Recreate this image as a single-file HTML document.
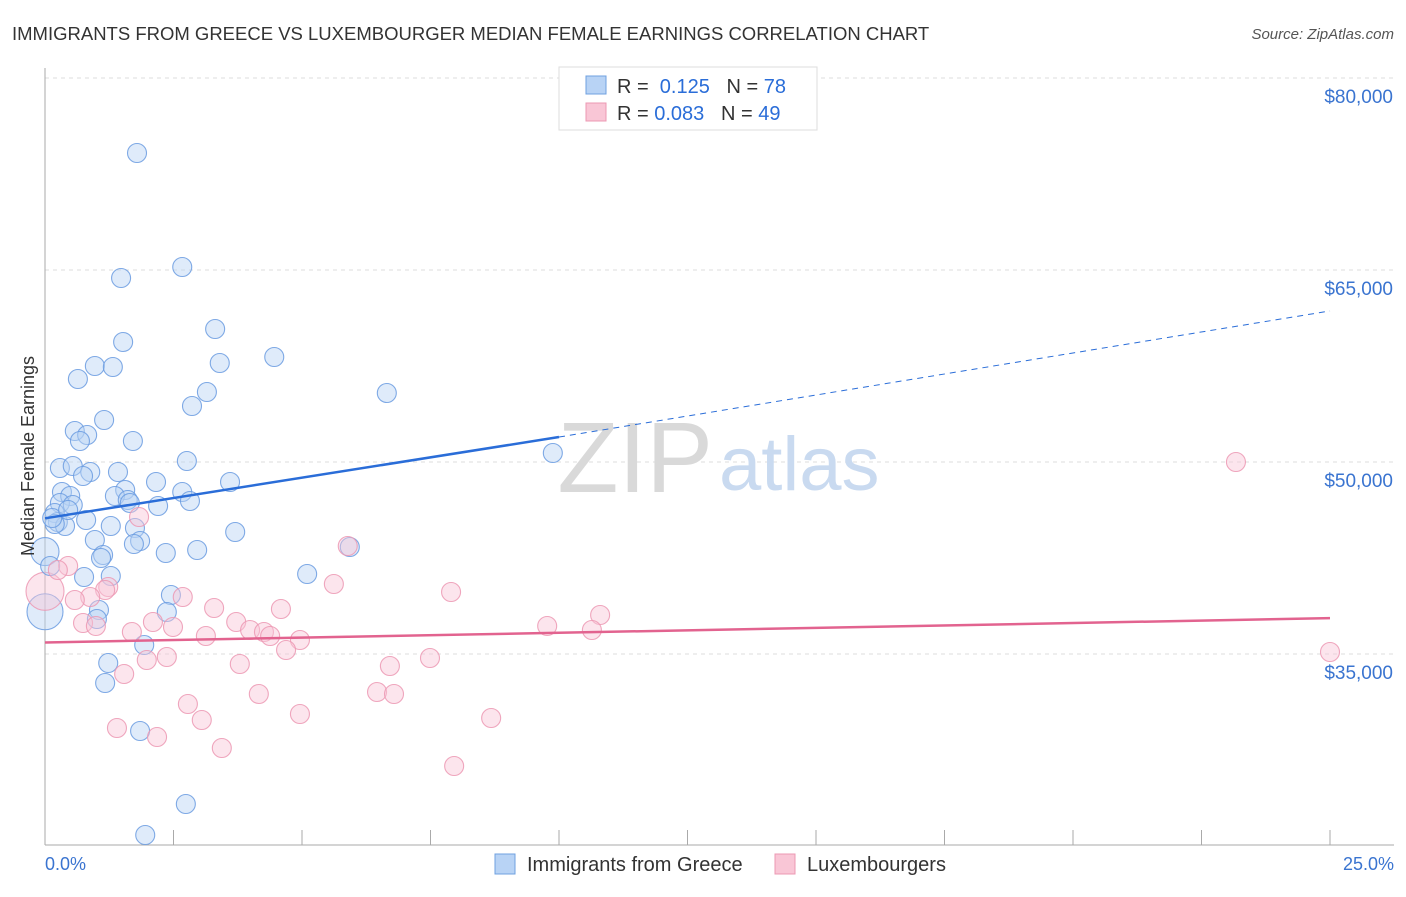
<!DOCTYPE html>
<html><head><meta charset="utf-8"><style>
body{margin:0;background:#fff;font-family:"Liberation Sans",sans-serif}
svg text{font-family:"Liberation Sans",sans-serif}
</style></head><body>
<svg id="c" width="1406" height="892">
<text x="12" y="40" font-size="18.5" fill="#333">IMMIGRANTS FROM GREECE VS LUXEMBOURGER MEDIAN FEMALE EARNINGS CORRELATION CHART</text>
<text x="1394" y="39" font-size="15" fill="#555" font-style="italic" text-anchor="end">Source: ZipAtlas.com</text>
<g id="grid"></g>
<text x="713" y="492" font-size="100" fill="#d9d9d9" text-anchor="end" font-family="Liberation Serif">ZIP</text>
<text x="719" y="490" font-size="76" fill="#c9daf0">atlas</text>
<g id="pts"></g>
<g id="lines"></g>
<text transform="translate(34,456) rotate(-90)" font-size="18" fill="#333" text-anchor="middle">Median Female Earnings</text>
<text x="45" y="870" font-size="18" fill="#3a74d0">0.0%</text>
<text x="1394" y="870" font-size="18" fill="#3a74d0" text-anchor="end">25.0%</text>
<g>
<rect x="559" y="67" width="258" height="63" fill="#fff" stroke="#ddd"/>
<rect x="586" y="76" width="20" height="18" fill="#b8d3f5" stroke="#6fa0e0"/>
<rect x="586" y="103" width="20" height="18" fill="#f9c6d6" stroke="#ec98b3"/>
<text x="617" y="93" font-size="20" fill="#333">R = <tspan fill="#2a6dd8">&#160;0.125</tspan>&#160;&#160;&#160;N = <tspan fill="#2a6dd8">78</tspan></text>
<text x="617" y="120" font-size="20" fill="#333">R = <tspan fill="#2a6dd8">0.083</tspan>&#160;&#160;&#160;N = <tspan fill="#2a6dd8">49</tspan></text>
</g>
<g>
<rect x="495" y="854" width="20" height="20" fill="#b8d3f5" stroke="#6fa0e0"/>
<text x="527" y="871" font-size="20" fill="#333">Immigrants from Greece</text>
<rect x="775" y="854" width="20" height="20" fill="#f9c6d6" stroke="#ec98b3"/>
<text x="807" y="871" font-size="20" fill="#333">Luxembourgers</text>
</g>
</svg>
<script>
const yTicks=[35000,50000,65000,80000];
const yTickLabels=["$35,000","$50,000","$65,000","$80,000"];
const xTicks=[0,2.5,5,7.5,10,12.5,15,17.5,20,22.5,25];
const bluePx=[[137,153],[182,267],[121,278],[215,329],[123,342],[274,357],[95,366],[113,367],[220,363],[78,379],[207,392],[387,393],[192,406],[104,420],[75,431],[87,435],[80,441],[133,441],[553,453],[187,461],[60,468],[73,466],[90,472],[118,472],[83,476],[156,482],[230,482],[62,492],[125,490],[182,492],[70,496],[115,496],[128,500],[190,501],[60,503],[73,505],[158,506],[130,503],[55,513],[86,520],[58,522],[65,526],[111,526],[135,528],[235,532],[95,540],[140,541],[134,544],[197,550],[166,553],[103,555],[101,558],[111,576],[84,577],[307,574],[350,547],[171,595],[99,610],[167,612],[97,619],[144,645],[108,663],[105,683],[140,731],[186,804],[145,835],[55,524],[52,518],[68,510],[50,566]];
const pinkPx=[[1236,462],[139,517],[348,546],[68,566],[58,570],[108,587],[334,584],[451,592],[105,590],[183,597],[90,597],[75,600],[214,608],[281,609],[600,615],[153,622],[236,622],[83,623],[96,626],[173,627],[250,630],[264,632],[132,632],[547,626],[592,630],[206,636],[300,640],[270,636],[286,650],[240,664],[147,660],[167,657],[430,658],[390,666],[124,674],[259,694],[377,692],[394,694],[188,704],[300,714],[491,718],[202,720],[117,728],[157,737],[222,748],[454,766],[1330,652]];
const toX=p=>+((p-45)/51.4).toFixed(2), toY=p=>Math.round(50000+(462-p)/0.0128);
const blueX=bluePx.map(d=>toX(d[0])), blueY=bluePx.map(d=>toY(d[1]));
const pinkX=pinkPx.map(d=>toX(d[0])), pinkY=pinkPx.map(d=>toY(d[1]));
const bigBlueX=[0,0], bigBlueY=[43000,38300], bigBlueR=[14,18];
const bigPinkX=[0], bigPinkY=[39900], bigPinkR=[19];
const blueTrend=[[0,45600],[10,51950],[25,61800]];
const pinkTrend=[[0,35900],[25,37800]];
const X=v=>45+v*51.4, Y=v=>462-(v-50000)*0.0128;
const NS="http://www.w3.org/2000/svg";
function mk(t,a,p){const e=document.createElementNS(NS,t);for(const k in a)e.setAttribute(k,a[k]);p.appendChild(e);return e;}
const g=document.getElementById('grid');
yTicks.forEach((v,i)=>{
 const l=mk('line',{x1:45,x2:1394,y1:Y(v),y2:Y(v),stroke:'#ddd','stroke-dasharray':'4,4'},g);
 
 
 const t=mk('text',{x:1393,y:Y(v)+25,'font-size':19,fill:'#3a74d0','text-anchor':'end'},g);
 t.textContent=yTickLabels[i];
 
 
});
mk('line',{x1:45,x2:45,y1:68,y2:845,stroke:'#aaa'},g);
mk('line',{x1:45,x2:1394,y1:845,y2:845,stroke:'#aaa'},g);
xTicks.forEach(v=>{const l=mk('line',{x1:X(v),x2:X(v),y1:830,y2:845,stroke:'#aaa'},g);
 
 });
const P=document.getElementById('pts');
function dot(x,y,r,c){const e=mk('circle',{cx:X(x),cy:Y(y),r:r,fill:c[0],'fill-opacity':0.45,stroke:c[1],'stroke-width':1.1,'stroke-opacity':0.85},P);return e;}
const BC=['#b8d3f5','#6a9be0'], PC=['#f9c6d6','#ec98b3'];
bigBlueX.forEach((x,i)=>{const e=dot(x,bigBlueY[i],bigBlueR[i],BC);
 
 });
bigPinkX.forEach((x,i)=>{const e=dot(x,bigPinkY[i],bigPinkR[i],PC);
 
 });
blueX.forEach((x,i)=>{const e=dot(x,blueY[i],9.5,BC);
 
 });
pinkX.forEach((x,i)=>{const e=dot(x,pinkY[i],9.5,PC);
 
 });
const L=document.getElementById('lines');
let a=mk('line',{x1:X(blueTrend[0][0]),y1:Y(blueTrend[0][1]),x2:X(blueTrend[1][0]),y2:Y(blueTrend[1][1]),stroke:'#2a6dd8','stroke-width':2.5},L);


a=mk('line',{x1:X(blueTrend[1][0]),y1:Y(blueTrend[1][1]),x2:X(blueTrend[2][0]),y2:Y(blueTrend[2][1]),stroke:'#2a6dd8','stroke-width':1,'stroke-dasharray':'6,5'},L);


a=mk('line',{x1:X(pinkTrend[0][0]),y1:Y(pinkTrend[0][1]),x2:X(pinkTrend[1][0]),y2:Y(pinkTrend[1][1]),stroke:'#e2638f','stroke-width':2.5},L);


</script>
</body></html>
